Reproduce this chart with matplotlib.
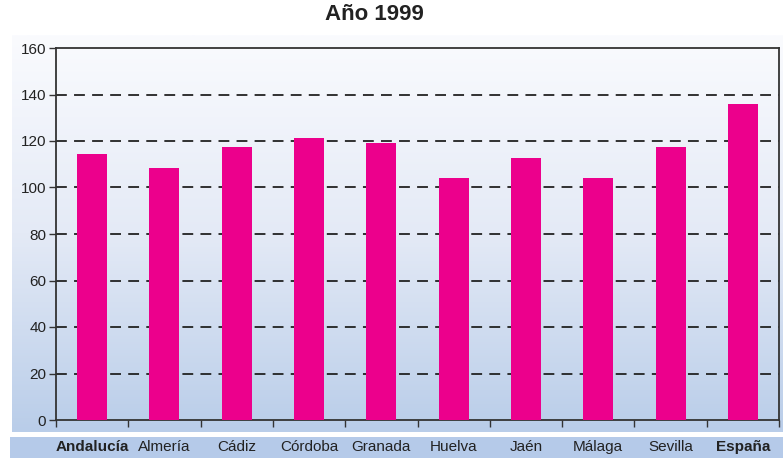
import numpy as np
import matplotlib
matplotlib.use("Agg")
import matplotlib.pyplot as plt
from matplotlib.colors import LinearSegmentedColormap
import matplotlib.transforms as mtransforms

plt.rcParams["font.family"] = ["Liberation Sans", "DejaVu Sans"]

# Data
provincias = ["Andalucía", "Almería", "Cádiz", "Córdoba", "Granada",
              "Huelva", "Jaén", "Málaga", "Sevilla", "España"]
valores = [114.5, 108.5, 117.5, 121.4, 119.2, 104.2, 112.8, 104.2, 117.5, 136.0]
negrita = ["Andalucía", "España"]
yticks = [0, 20, 40, 60, 80, 100, 120, 140, 160]

W, H = 783, 458
fig = plt.figure(figsize=(W / 100, H / 100), dpi=100)
fig.patch.set_facecolor("white")

# gradient background panel
bg = fig.add_axes([12 / W, 1 - 432 / H, (W - 12) / W, (432 - 35) / H])
cmap = LinearSegmentedColormap.from_list("bg", ["#fafbfe", "#e4eaf6", "#b9cde9"])
grad = np.linspace(0, 1, 256).reshape(-1, 1)
bg.imshow(grad, aspect="auto", cmap=cmap, extent=[0, 1, 1, 0])
bg.axis("off")

# label band at the bottom
band = fig.add_axes([10 / W, 0, (W - 10) / W, (458 - 437) / H])
band.set_facecolor("#b5cae9")
band.set_xticks([])
band.set_yticks([])
for s in band.spines.values():
    s.set_visible(False)

# main axes
ax = fig.add_axes([56 / W, 1 - 420 / H, (779 - 56) / W, (420 - 48) / H])
ax.patch.set_alpha(0)
x = np.arange(len(provincias))
ax.bar(x, valores, width=0.415, color="#ec008c", zorder=3)

ax.set_xlim(-0.5, len(provincias) - 0.5)
ax.set_ylim(0, 160)
ax.set_yticks(yticks)
ax.tick_params(axis="y", length=5, width=1, labelsize=11, color="#333333",
               labelcolor="#222222", pad=2)
for y in yticks[1:-1]:
    ax.axhline(y, color="#222222", lw=1.3, ls=(0, (6, 4)), zorder=2)

ax.set_xticks([])
ax.set_xticks(np.arange(len(provincias) + 1) - 0.5, minor=True)
ax.tick_params(axis="x", which="minor", length=5, width=1, color="#333333")
ax.tick_params(axis="x", which="major", length=0)

for s in ax.spines.values():
    s.set_color("#333333")
    s.set_linewidth(1.3)

# category labels inside the blue band
trans = mtransforms.blended_transform_factory(ax.transData, fig.transFigure)
for i, name in enumerate(provincias):
    ax.text(i, 1 - 447 / H, name, transform=trans, ha="center", va="center",
            fontsize=11, color="#222222",
            fontweight="bold" if name in negrita else "normal")

fig.text(374 / W, 1 - 15 / H, "Año 1999", ha="center", va="center",
         fontsize=16, fontweight="bold", color="#222222")

fig.savefig("out.png", dpi=100)
